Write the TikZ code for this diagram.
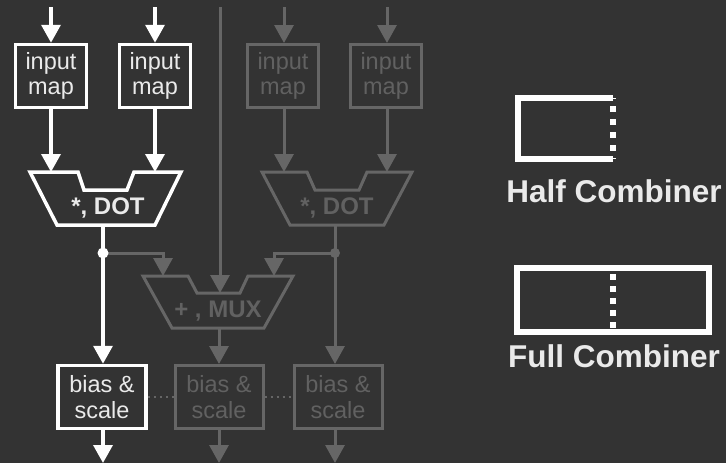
\documentclass[tikz,border=0pt]{standalone}
\usepackage{fontspec}
\setmainfont{Liberation Sans}
\usetikzlibrary{arrows.meta}
\definecolor{bg}{HTML}{333333}
\definecolor{wline}{HTML}{FFFFFF}
\definecolor{wtext}{HTML}{EAEAEA}
\definecolor{gline}{HTML}{666666}
\definecolor{gtext}{HTML}{616161}
\begin{document}
\begin{tikzpicture}[x=1pt,y=-1pt,
  bigtri/.tip={Triangle[width=19pt,length=18pt]},
  wl/.style={draw=wline, line width=3.5pt},
  gl/.style={draw=gline, line width=3pt},
  warr/.style={wl, -bigtri},
  garr/.style={gl, -bigtri},
  boxtext/.style={align=center, inner sep=0pt, font=\fontsize{23.5}{25.5}\selectfont},
  wbox/.style={wl, text=wtext, boxtext},
  gbox/.style={gl, text=gtext, boxtext},
  inbox/.style={minimum width=71pt, minimum height=63pt},
  bsbox/.style={minimum width=88pt, minimum height=63pt},
  oplab/.style={anchor=base, inner sep=0pt, font=\fontsize{24}{24}\selectfont\bfseries},
  wlab/.style={oplab, text=wtext},
  glab/.style={oplab, text=gtext},
  trap/.style={line join=miter},
  legtext/.style={anchor=base, inner sep=0pt, text=wtext, font=\fontsize{31.5}{32}\selectfont\bfseries},
  dotsep/.style={draw=gline, line width=2.5pt, dash pattern=on 2.5pt off 3.5pt}
]
\fill[bg] (0,0) rectangle (726,463);
\useasboundingbox (0,0) rectangle (726,463);

% ---------- coordinates ----------
\coordinate (tA) at (51,7);
\coordinate (tB) at (155,7);
\coordinate (tC) at (284,7);
\coordinate (tD) at (387,7);
\coordinate (tM) at (220,7);

% ---------- input maps ----------
\node[gbox, inbox] (inC) at (283,76) {input\\map};
\node[gbox, inbox] (inD) at (386,76) {input\\map};
\node[wbox, inbox] (inA) at (51,76) {input\\map};
\node[wbox, inbox] (inB) at (155,76) {input\\map};

% ---------- bias & scale ----------
\node[wbox, bsbox] (biasA) at (102,397) {bias \&\\scale};
\node[gbox, bsbox] (biasB) at (219,397) {bias \&\\scale};
\node[gbox, bsbox] (biasC) at (338,397) {bias \&\\scale};

% ---------- gray DOT ----------
\begin{scope}[shift={(337,172)}]
  \draw[gl, trap] (-75,0) -- (-30,0) -- (-22,18) -- (22,18) -- (30,0) -- (75,0)
     -- (47,53) -- (-47,53) -- cycle;
\end{scope}
\node[glab] (dotBlab) at (337,214) {*, DOT};
\coordinate (dotB-l) at (284,172);
\coordinate (dotB-r) at (387,172);
\coordinate (dotB-out) at (335,225);
\coordinate (jB) at (335,253);

% ---------- MUX ----------
\begin{scope}[shift={(218,276)}]
  \draw[gl, trap] (-75,0) -- (-30,0) -- (-21,17) -- (22,17) -- (30,0) -- (75,0)
     -- (46,52) -- (-46,52) -- cycle;
\end{scope}
\node[glab] (muxlab) at (218,317) {+ , MUX};
\coordinate (muxL) at (163,276);
\coordinate (muxR) at (274,276);
\coordinate (mux-mid) at (220,293);
\coordinate (mux-out) at (219,328);

% ---------- white DOT ----------
\begin{scope}[shift={(106,172)}]
  \draw[wl, trap] (-76,0) -- (-28,0) -- (-22,18) -- (21,18) -- (28,0) -- (75,0)
     -- (49,53) -- (-49,53) -- cycle;
\end{scope}
\node[wlab] (dotAlab) at (108,214) {*, DOT};
\coordinate (dotA-l) at (51,172);
\coordinate (dotA-r) at (155,172);
\coordinate (dotA-out) at (103,225);
\coordinate (jA) at (103,253);

% ---------- bottom ends ----------
\coordinate (bA) at (103,463);
\coordinate (bB) at (219,463);
\coordinate (bC) at (335,463);

% ---------- gray connectors ----------
\draw[garr] (tC) -- (inC.north -| tC);
\draw[garr] (tD) -- (inD.north -| tD);
\draw[garr] (inC.south -| tC) -- (dotB-l);
\draw[garr] (inD.south -| tD) -- (dotB-r);
\draw[garr] (tM) -- (mux-mid);
\draw[gl] (dotB-out) -- (jB);
\draw[garr] (jB) -- (jB |- biasC.north);
\draw[garr] (jB) -| (muxR);
\draw[garr] (jA) -| (muxL);
\draw[garr] (mux-out) -- (biasB.north);
\draw[garr] (biasB.south) -- (bB);
\draw[garr] (jB |- biasC.south) -- (bC);
\fill[gline] (jB) circle (5pt);
\draw[dotsep] (biasA.east) -- (biasB.west);
\draw[dotsep] (biasB.east) -- (biasC.west);

% ---------- white connectors ----------
\draw[warr] (tA) -- (inA.north);
\draw[warr] (tB) -- (inB.north);
\draw[warr] (inA.south) -- (dotA-l);
\draw[warr] (inB.south) -- (dotA-r);
\draw[warr] (dotA-out) -- (dotA-out |- biasA.north);
\draw[warr] (dotA-out |- biasA.south) -- (bA);
\fill[wline] (jA) circle (5.5pt);

% ---------- legend ----------
\draw[wline, line width=6pt, line join=miter] (613,98) -- (518,98) -- (518,159) -- (613,159);
\draw[wline, line width=6pt, dash pattern=on 6pt off 7pt, dash phase=-8pt] (613,98) -- (613,159);
\node[legtext] (half) at (614,202) {Half Combiner};

\draw[wline, line width=6pt] (517,268) rectangle (709,332);
\draw[wline, line width=6pt, dash pattern=on 6pt off 6pt, dash phase=-6pt] (613,268) -- (613,332);
\node[legtext] (full) at (614,367) {Full Combiner};
\end{tikzpicture}
\end{document}
